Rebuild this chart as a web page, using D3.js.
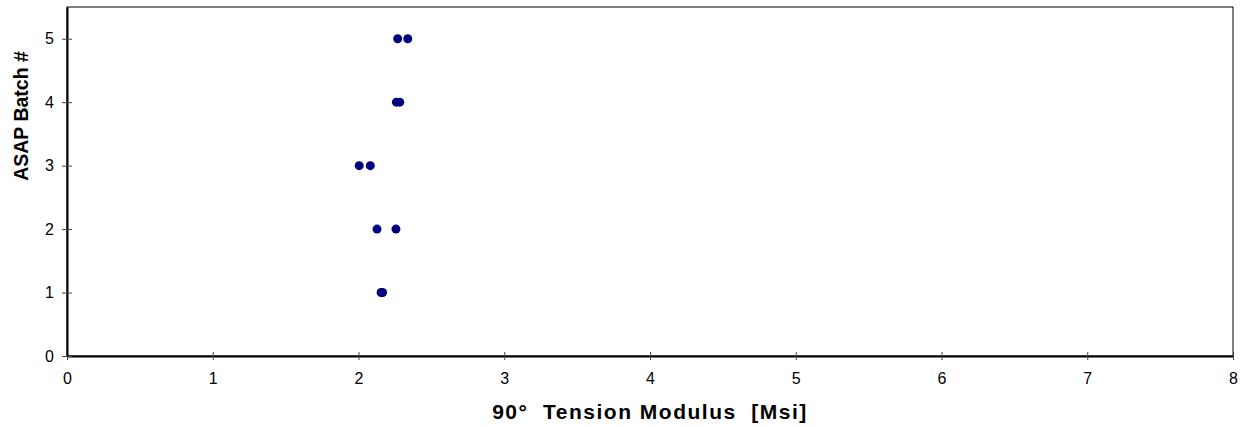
<!DOCTYPE html>
<html>
<head>
<meta charset="utf-8">
<script src="https://cdn.jsdelivr.net/npm/d3@7"></script>
<style>
  body { margin: 0; background: #fff; }
  svg text { font-family: "Liberation Sans", Arial, sans-serif; fill: #000; }
  .title { font-weight: bold; }
</style>
</head>
<body>
<div id="chart"></div>
<script>
// tension modulus readings per batch
const modulus = [2.155, 2.165, 2.127, 2.257, 2.005, 2.081, 2.26, 2.283, 2.269, 2.338];
const batch   = [1, 1, 2, 2, 3, 3, 4, 4, 5, 5];
const xTicks = [0, 1, 2, 3, 4, 5, 6, 7, 8];
const yTicks = [0, 1, 2, 3, 4, 5];

const width = 1240, height = 427;
const margin = { top: 7, right: 7, bottom: 71, left: 67 };
const w = width - margin.left - margin.right;
const h = height - margin.top - margin.bottom;

const svg = d3.select("#chart").append("svg")
  .attr("width", width)
  .attr("height", height);

const g = svg.append("g")
  .attr("transform", `translate(${margin.left}, ${margin.top})`);

const x = d3.scaleLinear().domain([0, 8]).range([0, w]);
const y = d3.scaleLinear().domain([0, 5.5]).range([h, 0]);

// plot frame
g.append("rect")
  .attr("x", 0).attr("y", 0)
  .attr("width", w).attr("height", h)
  .attr("fill", "none")
  .attr("stroke", "#000")
  .attr("stroke-width", 1);

// x axis
const xAxis = g.append("g")
  .attr("transform", `translate(0, ${h})`)
  .call(d3.axisBottom(x).tickValues(xTicks).tickFormat(d3.format("d")).tickSize(0).tickPadding(17));
xAxis.select(".domain").attr("stroke", "#000").attr("stroke-width", 2);
xAxis.selectAll(".tick text").attr("font-size", 16).attr("font-family", null);
xAxis.selectAll(".tick").append("line")
  .attr("y1", -4).attr("y2", 4)
  .attr("stroke", "#444");

// y axis
const yAxis = g.append("g")
  .call(d3.axisLeft(y).tickValues(yTicks).tickFormat(d3.format("d")).tickSize(0).tickPadding(13));
yAxis.select(".domain").attr("stroke", "#000").attr("stroke-width", 2);
yAxis.selectAll(".tick text").attr("font-size", 16).attr("font-family", null);
yAxis.selectAll(".tick").append("line")
  .attr("x1", -5).attr("x2", 5)
  .attr("stroke", "#444");

// points
g.selectAll("circle.pt")
  .data(modulus.map((m, i) => ({ m, b: batch[i] })))
  .join("circle")
  .attr("class", "pt")
  .attr("cx", d => x(d.m))
  .attr("cy", d => y(d.b))
  .attr("r", 4.5)
  .attr("fill", "#000080");

// axis titles
svg.append("text")
  .attr("class", "title")
  .attr("font-size", 21)
  .attr("x", 650)
  .attr("y", 419)
  .attr("text-anchor", "middle")
  .attr("letter-spacing", 1.5)
  .attr("xml:space", "preserve")
  .text("90°  Tension Modulus  [Msi]");

svg.append("text")
  .attr("class", "title")
  .attr("font-size", 19.5)
  .attr("transform", "translate(28, 116) rotate(-90)")
  .attr("text-anchor", "middle")
  .text("ASAP Batch #");
</script>
</body>
</html>
